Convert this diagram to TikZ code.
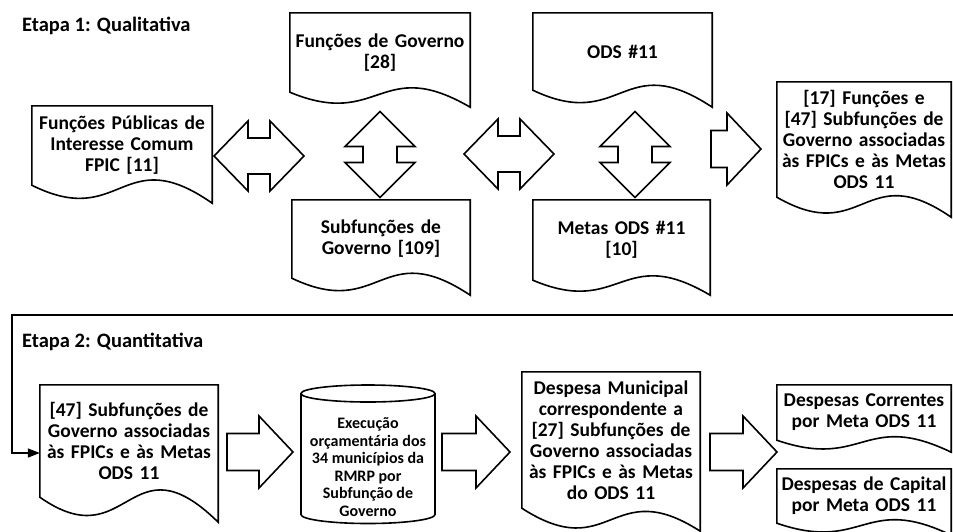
\documentclass[tikz,border=0pt]{standalone}
\usepackage{fontspec}
\setmainfont{Carlito}
\usetikzlibrary{calc,arrows.meta}
\newcommand{\docframe}[3][2.5]{%
  \draw[docline] (#2.south west) .. controls ($(#2.south)+(0,2.5*#3)$) and ($(#2.south)+(0,-#1*#3)$)
    .. ($(#2.south east)+(0,#3)$) -- (#2.north east) -- (#2.north west) -- cycle;}

\begin{document}
\begin{tikzpicture}[x=1pt, y=-1pt,
  font=\bfseries\fontsize{19.5}{21}\selectfont,
  doc/.style={minimum width=#1, text width=#1, align=center, inner sep=0pt},
  doc/.default=178pt,
  docline/.style={line width=1.6pt, line join=miter},
  blk/.style={line width=1.6pt, line join=miter, fill=white},
  lbl/.style={anchor=west, inner sep=0pt, font=\bfseries\fontsize{20.5}{22}\selectfont},
  flow/.style={line width=1.6pt, -{Triangle[length=12pt, width=9pt]}},
  pics/dblh/.style={code={\draw[blk] (-45,0) -- (-11,-35) -- (-11,-18) -- (11,-18) -- (11,-35) -- (45,0)
    -- (11,35) -- (11,18) -- (-11,18) -- (-11,35) -- cycle;}},
  pics/dblv/.style={code={\draw[blk] (0,-43) -- (35,-8) -- (17,-8) -- (17,8) -- (35,8) -- (0,43)
    -- (-35,8) -- (-17,8) -- (-17,-8) -- (-35,-8) -- cycle;}},
  pics/rarr/.style={code={\draw[blk] (0,0) -- (-34,-36) -- (-34,-18.5) -- (-#1,-18.5) -- (-#1,18.5)
    -- (-34,18.5) -- (-34,36) -- cycle;}}
]
\useasboundingbox (0,0) rectangle (953,531);

\node[lbl] (etapa1) at (22,26) {Etapa 1: Qualitativa};
\node[lbl] (etapa2) at (22,342) {Etapa 2: Quantitativa};

\node[doc=180pt, minimum height=79pt] (fpic) at (122,145.5) {Funções Públicas de\\Interesse Comum\\FPIC [11]};
\node[doc=180pt, minimum height=79pt] (fgov) at (380,52.5) {Funções de Governo\\{[28]}};
\node[doc, minimum height=78pt] (subf) at (381,239) {Subfunções de\\Governo [109]};
\node[doc=179pt, minimum height=77pt] (ods) at (622.5,51.5) {ODS \#11};
\node[doc=177pt, minimum height=80pt] (metas) at (621.5,240) {Metas ODS \#11\\{[10]}};
\node[doc=174pt, minimum height=115pt] (res1) at (864,139.5) {[17] Funções e\\{[47]} Subfunções de\\Governo associadas\\às FPICs e às Metas\\ODS 11};

\docframe{fpic}{18}
\docframe{fgov}{15}
\docframe{subf}{17}
\docframe{ods}{17}
\docframe{metas}{15}
\docframe[2]{res1}{20}

\pic at (259,156) {dblh};
\pic at (380,154.5) {dblv};
\pic at (509,154) {dblh};
\pic at (635,154.5) {dblv};
\pic at (761,149) {rarr=50};

\coordinate (back) at (953,315);
\coordinate (turn) at (12,315);

\node[doc, minimum height=112pt] (sub47) at (129,441) {{[47]} Subfunções de\\Governo associadas\\às FPICs e às Metas\\ODS 11};
\node[align=center, inner sep=0pt, font=\bfseries\fontsize{16}{17.5}\selectfont] (exec) at (368,467) {Execução\\orçamentária dos\\34 municípios da\\RMRP por\\Subfunção de\\Governo};
\node[doc, minimum height=136pt] (desp) at (611,440) {Despesa Municipal\\correspondente a\\{[27]} Subfunções de\\Governo associadas\\às FPICs e às Metas\\do ODS 11};
\node[doc=174pt, minimum height=55pt] (corr) at (864,412.5) {Despesas Correntes\\por Meta ODS 11};
\node[doc=174pt, minimum height=54pt] (capi) at (864,496) {Despesas de Capital\\por Meta ODS 11};

\docframe{sub47}{25}
\docframe[1.5]{desp}{23}
\docframe{corr}{12}
\docframe{capi}{12}

\draw[docline] ($(exec)+(-67,-73.5)$) -- ($(exec)+(-67,47.5)$) arc[start angle=180, end angle=0, x radius=67, y radius=9] -- ($(exec)+(67,-73.5)$);
\draw[docline] ($(exec)+(0,-73.5)$) ellipse[x radius=67, y radius=8.5];

\pic at (293,452) {rarr=66};
\pic at (510,452) {rarr=68};
\pic at (777,452) {rarr=67};

\draw[flow] (back) -- (turn) |- ([yshift=-12pt]sub47.west);
\end{tikzpicture}
\end{document}
